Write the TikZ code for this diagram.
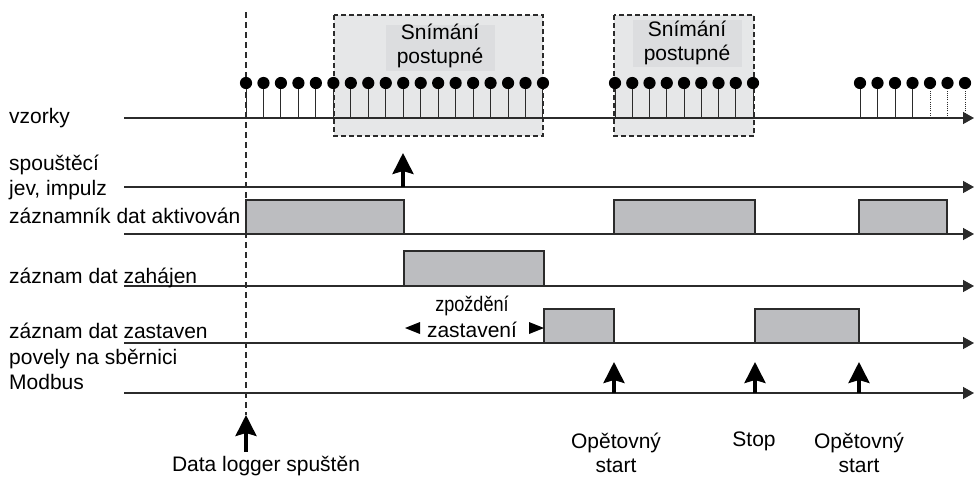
\documentclass[tikz,border=0pt]{standalone}
\usepackage{fontspec}
\setmainfont{Liberation Sans}
\usetikzlibrary{arrows.meta}
\definecolor{ink}{HTML}{2B2B2B}
\definecolor{barfill}{HTML}{BCBDC0}
\definecolor{zonefill}{HTML}{E6E7E8}
\definecolor{tagfill}{HTML}{DCDDDF}
\begin{document}
\begin{tikzpicture}[x=1pt,y=-1pt,
  lbl/.style={font=\fontsize{21}{24}\selectfont, inner sep=0pt, text=black},
  twoline/.style={lbl, align=center},
  axis/.style={line width=1.4pt, draw=ink, -{Triangle[length=11pt,width=12pt]}},
  bar/.style={fill=barfill, draw=ink, line width=1.3pt},
  zone/.style={fill=zonefill, draw=ink, line width=1.6pt, dash pattern=on 5pt off 3pt},
  tag/.style={fill=tagfill, draw=none},
  stem/.style={draw=ink, line width=1pt},
  dotstem/.style={draw=ink, line width=0.9pt, dash pattern=on 1pt off 1.2pt},
  sample/.style={fill=black},
  event/.style={draw=black, line width=3.3pt, -{Stealth[length=21pt,width=21pt,inset=3pt]}},
  guide/.style={draw=ink, line width=1.1pt, dash pattern=on 6pt off 4pt},
  delayhead/.style={fill=black}
]
\useasboundingbox (0,0) rectangle (974,477);

% sampling windows
\draw[zone] (334,15) rectangle (543,136);
\fill[tag] (386,25) rectangle (495,71);
\node[twoline] (win1) at (440,46) {Snímání\\postupné};
\draw[zone] (614,15) rectangle (754,136);
\fill[tag] (633,20) rectangle (742,67);
\node[twoline] (win2) at (687,43) {Snímání\\postupné};

% start of the logger
\coordinate (gtop) at (246,12);
\coordinate (gbot) at (246,415);
\coordinate (gfoot) at (246,452);
\draw[guide] (gtop) -- (gbot);

% time axes
\foreach \n/\y in {smp/118, trg/187, act/234, beg/286, end/343, bus/393}{
  \coordinate (\n-a) at (124,\y);
  \coordinate (\n-b) at (974,\y);
  \draw[axis] (\n-a) -- (\n-b);
}

% samples
\foreach \i in {0,...,17}{
  \pgfmathsetmacro{\xx}{246+17.47*\i}
  \draw[stem] (\xx,118) -- (\xx,83);
  \fill[sample] (\xx,83) circle (6.1);
}
\foreach \i in {0,...,8}{
  \pgfmathsetmacro{\xx}{615+17.25*\i}
  \draw[stem] (\xx,118) -- (\xx,83);
  \fill[sample] (\xx,83) circle (6.1);
}
\foreach \i in {0,...,6}{
  \pgfmathsetmacro{\xx}{860+17.5*\i}
  \ifnum\i<4
    \draw[stem] (\xx,118) -- (\xx,83);
  \else
    \draw[dotstem] (\xx,118) -- (\xx,83);
  \fi
  \fill[sample] (\xx,83) circle (6.1);
}

% state bars
\draw[bar] (246,234) rectangle (404,200);
\draw[bar] (614,234) rectangle (755,200);
\draw[bar] (859,234) rectangle (947,200);
\draw[bar] (404,286) rectangle (544,251);
\draw[bar] (544,343) rectangle (614,309);
\draw[bar] (755,343) rectangle (859,309);

% trigger and bus commands
\coordinate (trg-up) at (403,153);
\draw[event] (403,187) -- (trg-up);
\coordinate (rs1) at (614,362);
\coordinate (stp) at (755,362);
\coordinate (rs2) at (859,362);
\draw[event] (614,393) -- (rs1);
\draw[event] (755,393) -- (stp);
\draw[event] (859,393) -- (rs2);
\draw[event] (gfoot) -- (gbot);

% stop delay
\fill[delayhead] (405,328) -- (420,322) -- (420,334) -- cycle;
\fill[delayhead] (544,328) -- (529,322) -- (529,334) -- cycle;
\node[lbl, xscale=0.86] (dl1) at (472,306) {zpoždění};
\node[lbl] (dl2) at (472,330) {zastavení};

% row labels
\node[lbl, anchor=base west] (l1) at (9,123) {vzorky};
\node[lbl, anchor=base west] (l2) at (9,170) {spouštěcí};
\node[lbl, anchor=base west] (l3) at (9,195) {jev, impulz};
\node[lbl, anchor=base west] (l4) at (9,223) {záznamník dat aktivován};
\node[lbl, anchor=base west] (l5) at (9,283) {záznam dat zahájen};
\node[lbl, anchor=base west] (l6) at (9,338) {záznam dat zastaven};
\node[lbl, anchor=base west] (l7) at (9,364) {povely na sběrnici};
\node[lbl, anchor=base west] (l8) at (9,389) {Modbus};

% event captions
\node[twoline] (c1) at (616,453) {Opětovný\\start};
\node[lbl] (c2) at (754,441) {Stop};
\node[twoline] (c3) at (859,453) {Opětovný\\start};
\node[lbl] (c4) at (266,466) {Data logger spuštěn};
\end{tikzpicture}
\end{document}
